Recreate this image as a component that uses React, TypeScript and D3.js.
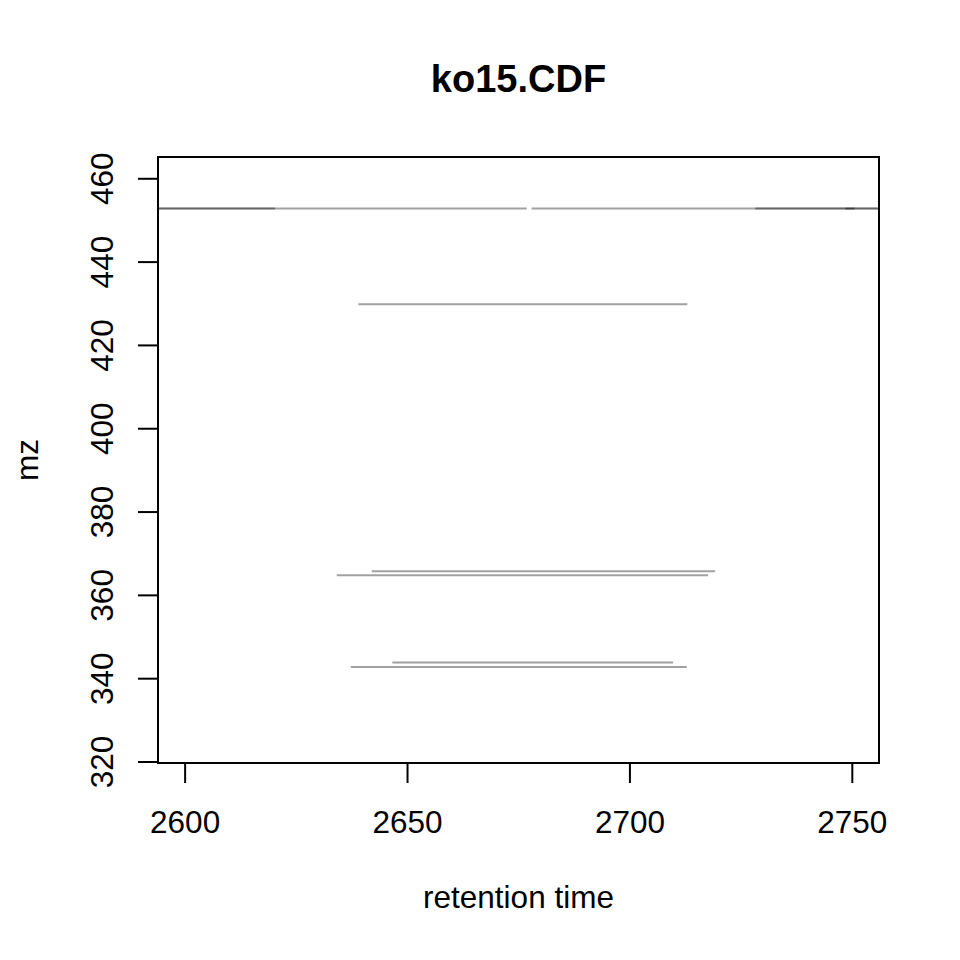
import React from "react";
import * as d3 from "d3";

// Peak segments: retention time range (rtmin..rtmax) at a given m/z
const peakMz = [452.85, 452.85, 452.85, 452.85, 452.85, 429.87, 365.78, 364.83, 343.87, 342.81];
const peakRtMin = [2590, 2677.9, 2590, 2728.2, 2748.4, 2638.95, 2641.96, 2634.09, 2646.59, 2637.24];
const peakRtMax = [2676.8, 2760, 2620.2, 2760, 2750.5, 2712.9, 2719.16, 2717.59, 2709.71, 2712.78];

const xTicks = [2600, 2650, 2700, 2750];
const yTicks = [320, 340, 360, 380, 400, 420, 440, 460];
const title = "ko15.CDF";
const xLabel = "retention time";
const yLabel = "mz";

const W = 960;
const H = 960;
const L = 158, R = 879, T = 157, B = 763;
const FONT = "'Liberation Sans', Arial, Helvetica, sans-serif";

export default function App() {
  const x = d3.scaleLinear().domain([2593.9, 2756.0]).range([L, R]);
  const y = d3.scaleLinear().domain([319.76, 465.23]).range([B, T]);

  const segs = peakMz.map((mz, i) => ({ mz, a: peakRtMin[i], b: peakRtMax[i] }));

  return (
    <svg
      width={W}
      height={H}
      style={{ position: "absolute", left: 0, top: 0, background: "#fff" }}
      fontFamily={FONT}
    >
      <rect x={0} y={0} width={W} height={H} fill="#fff" />
      <defs>
        <clipPath id="plotclip">
          <rect x={L} y={T} width={R - L} height={B - T} />
        </clipPath>
      </defs>
      <g clipPath="url(#plotclip)">
        {segs.map((s, i) => (
          <line
            key={i}
            x1={x(s.a)}
            x2={x(s.b)}
            y1={y(s.mz)}
            y2={y(s.mz)}
            stroke="#000"
            strokeOpacity={0.37}
            strokeWidth={2}
          />
        ))}
      </g>
      {/* box */}
      <rect x={L} y={T} width={R - L} height={B - T} fill="none" stroke="#000" strokeWidth={2} />
      {/* x axis */}
      <line x1={x(xTicks[0])} x2={x(xTicks[xTicks.length - 1])} y1={B} y2={B} stroke="#000" strokeWidth={2} />
      {xTicks.map((t) => (
        <g key={t}>
          <line x1={x(t)} x2={x(t)} y1={B} y2={B + 20} stroke="#000" strokeWidth={2} />
          <text x={x(t)} y={832.7} textAnchor="middle" fontSize={31.5} fill="#000">
            {t}
          </text>
        </g>
      ))}
      {/* y axis */}
      <line x1={L} x2={L} y1={y(yTicks[0])} y2={y(yTicks[yTicks.length - 1])} stroke="#000" strokeWidth={2} />
      {yTicks.map((t) => (
        <g key={t}>
          <line x1={L} x2={L - 20} y1={y(t)} y2={y(t)} stroke="#000" strokeWidth={2} />
          <text
            transform={`translate(${113},${y(t)}) rotate(-90)`}
            textAnchor="middle"
            fontSize={31.5}
            fill="#000"
          >
            {t}
          </text>
        </g>
      ))}
      {/* title and labels */}
      <text x={(L + R) / 2} y={92} textAnchor="middle" fontSize={38} fontWeight="bold" fill="#000">
        {title}
      </text>
      <text x={(L + R) / 2} y={908} textAnchor="middle" fontSize={31.5} fill="#000">
        {xLabel}
      </text>
      <text
        transform={`translate(${38},${(T + B) / 2}) rotate(-90)`}
        textAnchor="middle"
        fontSize={31.5}
        fill="#000"
      >
        {yLabel}
      </text>
    </svg>
  );
}
